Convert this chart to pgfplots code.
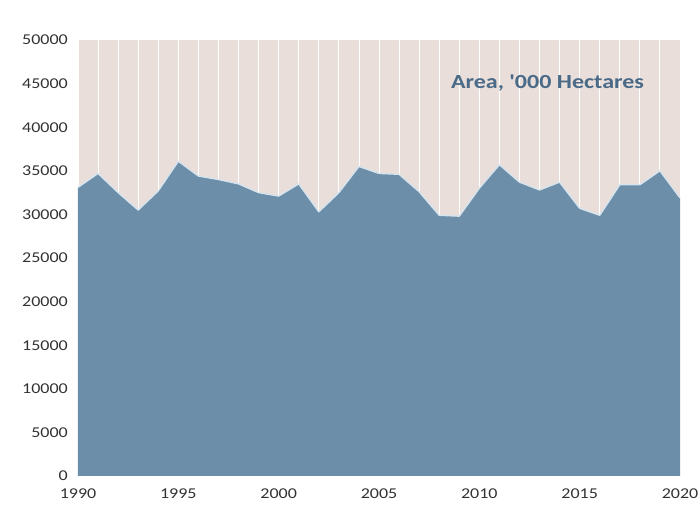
\documentclass[border=0pt]{standalone}
\usepackage{fontspec}
\setmainfont{Carlito}
\usepackage{pgfplots}
\usepackage{pgfplotstable}
\pgfplotsset{compat=1.18}
\definecolor{bgc}{RGB}{233,222,218}
\definecolor{areac}{RGB}{108,142,168}
\definecolor{edgec}{RGB}{214,228,238}
\definecolor{titlec}{RGB}{74,106,136}
\definecolor{tickc}{RGB}{50,50,50}
\pgfplotstableread{
year area
1990 33100
1991 34700
1992 32500
1993 30500
1994 32700
1995 36100
1996 34400
1997 34000
1998 33500
1999 32500
2000 32100
2001 33500
2002 30300
2003 32500
2004 35500
2005 34700
2006 34600
2007 32600
2008 29900
2009 29800
2010 33000
2011 35700
2012 33700
2013 32800
2014 33700
2015 30700
2016 29900
2017 33400
2018 33400
2019 35000
2020 31900
}\datatable
\begin{document}
\begin{tikzpicture}
\begin{axis}[
  scale only axis, width=602pt, height=436pt,
  xmin=1990, xmax=2020, ymin=0, ymax=50000,
  axis line style={draw=none},
  major tick length=0pt, minor tick length=0pt,
  xtick={1990,1995,...,2020},
  minor xtick={1990,...,2020},
  ytick={0,5000,...,50000},
  xmajorgrids, xminorgrids,
  major grid style={white, line width=0.8pt},
  minor grid style={white, line width=0.8pt},
  axis background/.style={fill=bgc},
  scaled y ticks=false,
  /pgf/number format/1000 sep={},
  /pgf/number format/assume math mode=true,
  ticklabel style={font=\fontsize{15}{15}\selectfont, text=tickc, xscale=1.2},
  xticklabel style={yshift=-9pt},
  yticklabel style={xshift=-5pt},
]
\addplot[fill=areac, draw=none] table[x=year, y=area] {\datatable} \closedcycle;
\addplot[edgec, line width=1.4pt, line join=round] table[x=year, y=area] {\datatable};
\node[font=\bfseries\fontsize{20}{20}\selectfont, text=titlec, xscale=1.2] at (axis cs:2013.4,45070) {Area, \textquotesingle000 Hectares};
\end{axis}
\pgfresetboundingbox
\path (-78pt,-35pt) rectangle (621pt,476pt);
\end{tikzpicture}
\end{document}
